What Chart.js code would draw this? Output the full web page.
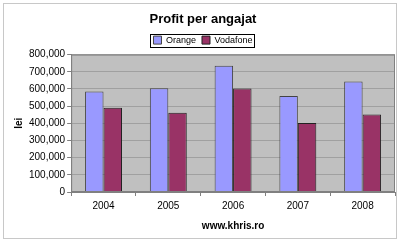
<!DOCTYPE html>
<html>
<head>
<meta charset="utf-8">
<script src="https://cdn.jsdelivr.net/npm/chart.js@4"></script>
<style>
    html, body { margin: 0; padding: 0; background: #fff; }
    .frame { position: absolute; left: 3px; top: 3px; width: 394px; height: 236px; border: 1px solid #c8c8c8; box-sizing: border-box; }
    #wrap { position: absolute; left: 0; top: 0; width: 400px; height: 244px; }
</style>
</head>
<body>
<div class="frame"></div>
<div id="wrap"><canvas id="chart" width="400" height="244"></canvas></div>
<script>
// --- Data ---
const years = ['2004', '2005', '2006', '2007', '2008'];
const orange = [585000, 604000, 735000, 559000, 643000];
const vodafone = [490000, 461000, 602000, 402000, 451000];
const yTicks = [0, 100000, 200000, 300000, 400000, 500000, 600000, 700000, 800000];

const FONT = 'Liberation Sans, Arial, sans-serif';

// grey plot area + box round the legend, like the Excel original
const excelLook = {
    id: 'excelLook',
    beforeDraw(chart) {
        const { ctx, chartArea: a } = chart;
        ctx.save();
        ctx.fillStyle = '#c0c0c0';
        ctx.fillRect(a.left, a.top, a.right - a.left, a.bottom - a.top);
        ctx.restore();
    },
    afterDraw(chart) {
        const { ctx, legend: l, chartArea: a } = chart;
        ctx.save();
        ctx.strokeStyle = '#808080';
        ctx.lineWidth = 1;
        ctx.strokeRect(a.left + 0.5, a.top + 0.5, a.right - a.left - 1, a.bottom - a.top - 1);
        ctx.strokeStyle = '#000';
        const lw = l.legendHitBoxes;
        if (lw && lw.length) {
            const x0 = lw[0].left - 3, x1 = lw[lw.length - 1].left + lw[lw.length - 1].width + 2;
            const y0 = lw[0].top - 2, y1 = lw[0].top + lw[0].height + 2;
            ctx.strokeRect(Math.round(x0) + 0.5, Math.round(y0) + 0.5, Math.round(x1 - x0), Math.round(y1 - y0));
        }
        ctx.restore();
    }
};

new Chart(document.getElementById('chart'), {
    type: 'bar',
    data: {
        labels: years,
        datasets: [{
            label: 'Orange',
            data: orange,
            backgroundColor: '#9999ff',
            borderColor: '#444',
            borderWidth: 1
        }, {
            label: 'Vodafone',
            data: vodafone,
            backgroundColor: '#993366',
            borderColor: '#222',
            borderWidth: 1
        }]
    },
    options: {
        responsive: false,
        animation: false,
        devicePixelRatio: 1,
        layout: { padding: { left: 11, right: 5, top: 6, bottom: 12 } },
        datasets: { bar: { categoryPercentage: 0.57, barPercentage: 1 } },
        plugins: {
            title: {
                display: true, text: 'Profit per angajat', color: '#000',
                font: { family: FONT, size: 13, weight: 'bold' },
                padding: { top: 6, bottom: 2 }
            },
            legend: {
                position: 'top',
                labels: {
                    color: '#000', boxWidth: 8, boxHeight: 8, padding: 6,
                    font: { family: FONT, size: 9 }
                }
            },
            tooltip: { enabled: false }
        },
        scales: {
            x: {
                grid: { display: true, drawOnChartArea: false, offset: true, tickLength: 4, tickColor: '#808080' },
                border: { color: '#808080' },
                ticks: { color: '#000', font: { family: FONT, size: 10 }, padding: 4 },
                title: {
                    display: true, text: 'www.khris.ro', color: '#000',
                    font: { family: FONT, size: 10, weight: 'bold' }, padding: { top: 4, bottom: 0 }
                }
            },
            y: {
                min: 0, max: 800000,
                afterBuildTicks: ax => { ax.ticks = yTicks.map(v => ({ value: v })); },
                grid: { color: '#a0a0a0', tickLength: 4, tickColor: '#808080' },
                border: { color: '#808080' },
                ticks: {
                    color: '#000', font: { family: FONT, size: 10 }, padding: 2, autoSkip: false,
                    callback: v => v.toLocaleString('en-US')
                },
                title: {
                    display: true, text: 'lei', color: '#000',
                    font: { family: FONT, size: 10, weight: 'bold' }, padding: 2
                }
            }
        }
    },
    plugins: [excelLook]
});
</script>
</body>
</html>
